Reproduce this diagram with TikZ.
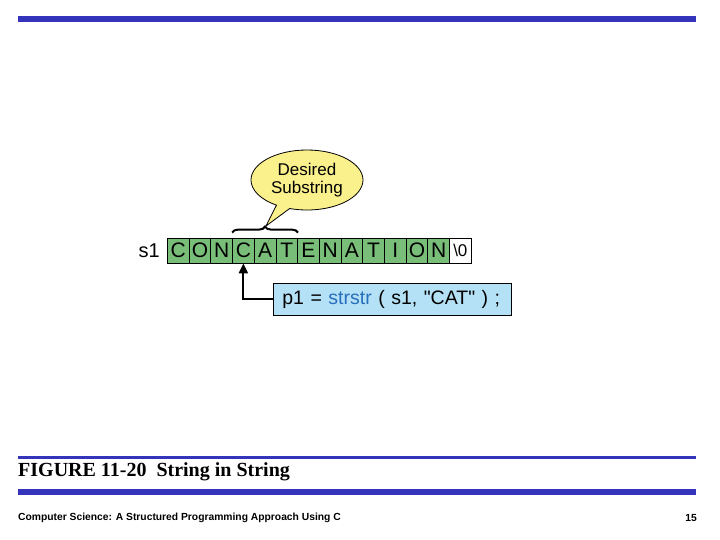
\documentclass[tikz,border=0pt]{standalone}
\usepackage{fontspec}
\setmainfont{Liberation Serif}
\newfontfamily\arial{Liberation Sans}
\usetikzlibrary{shapes.callouts,decorations.pathreplacing,arrows.meta,calc}
\definecolor{barblue}{RGB}{51,51,187}
\definecolor{cellgreen}{RGB}{120,190,120}
\definecolor{boxblue}{RGB}{180,225,245}
\definecolor{codeblue}{RGB}{40,110,190}
\definecolor{callyellow}{RGB}{250,240,140}
\tikzset{cell/.style={draw=black,line width=0.8pt,fill=cellgreen,minimum width=21.7pt,minimum height=25pt,inner sep=0pt,font=\arial\fontsize{21}{21}\selectfont,anchor=west},
bar/.style={fill=barblue,draw=none}}
\begin{document}
\begin{tikzpicture}[x=1pt,y=-1pt]
\useasboundingbox (0,0) rectangle (720,540);
\fill[barblue] (18,16) rectangle (696,22);
\fill[barblue] (18,456) rectangle (696,458.5);
\fill[barblue] (18,489) rectangle (696,495);
\node[anchor=west,font=\bfseries\fontsize{20}{20}\selectfont,inner sep=0pt] (cap) at (18,472) {FIGURE 11-20\ \ String in String};
\node[anchor=west,font=\arial\bfseries\fontsize{10.3}{11}\selectfont,inner sep=0pt] (foot) at (18,518) {Computer Science: A Structured Programming Approach Using C};
\node[anchor=east,font=\arial\bfseries\fontsize{10.3}{11}\selectfont,inner sep=0pt] (pg) at (697,518) {15};
\node[font=\arial\fontsize{20}{20}\selectfont,anchor=east,inner sep=2pt] (s1) at (162,250.5) {s1};
\foreach \c [count=\i from 0] in {C,O,N,C,A,T,E,N,A,T,I,O,N} {
  \node[cell] (c\i) at (167+21.7*\i,250.5) {\c};
}
\node[cell,fill=white,font=\arial\fontsize{17}{17}\selectfont] (c13) at (167+21.7*13,250.5) {\textbackslash 0};
\draw[line width=2pt,decorate,decoration={brace,amplitude=6pt}] ($(c3.north west)+(0,-5)$) -- ($(c5.north east)+(0,-5)$);
\node[ellipse callout,draw=black,line width=0.8pt,fill=callyellow,minimum width=112pt,minimum height=60pt,align=center,inner sep=0pt,font=\arial\fontsize{17}{18}\selectfont,callout absolute pointer={(266,226)}] (call) at (307,180) {Desired\\Substring};
\node[draw=black,line width=0.8pt,fill=boxblue,text width=220pt,minimum height=32pt,anchor=west,font=\arial\fontsize{19.5}{20}\selectfont,inner xsep=9pt,inner ysep=0pt,align=left] (code) at (273,299) {p1 = \textcolor{codeblue}{strstr} ( s1, "CAT" ) ;};
\draw[line width=2.2pt,-{Triangle[length=10pt,width=9pt]}] (code.west) -| (c3.south);
\end{tikzpicture}
\end{document}
